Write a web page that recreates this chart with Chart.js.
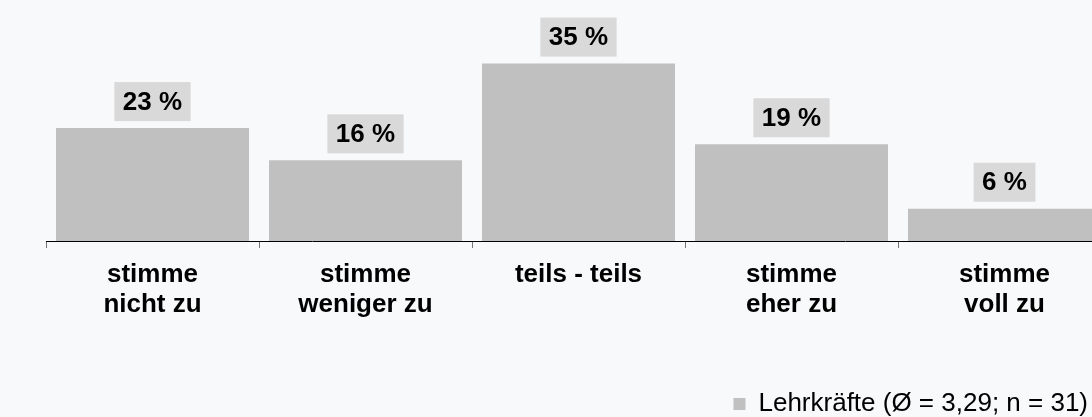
<!DOCTYPE html>
<html>
<head>
<meta charset="utf-8">
<script src="https://cdn.jsdelivr.net/npm/chart.js@4/dist/chart.umd.min.js"></script>
<style>
  html, body { margin: 0; padding: 0; background: #f8f9fa; overflow: hidden; }
  #wrap { position: relative; width: 1130px; height: 427px; }
</style>
</head>
<body>
<div id="wrap"><canvas id="chart"></canvas></div>
<script>
const categories = [
    ['stimme', 'nicht zu'],
    ['stimme', 'weniger zu'],
    'teils - teils',
    ['stimme', 'eher zu'],
    ['stimme', 'voll zu']
];
const seriesName = 'Lehrkräfte (Ø = 3,29; n = 31)';
const values = [22.58, 16.13, 35.48, 19.35, 6.45];

const FONT = "'Liberation Sans', Arial, sans-serif";
const BAR = '#c0c0c0';

// grey boxes with the rounded percentage above each bar
const valueBoxes = {
    id: 'valueBoxes',
    afterDatasetsDraw(chart) {
        const ctx = chart.ctx;
        const meta = chart.getDatasetMeta(0);
        ctx.save();
        ctx.font = 'bold 26px ' + FONT;
        ctx.textAlign = 'center';
        ctx.textBaseline = 'middle';
        meta.data.forEach((bar, i) => {
            const text = Math.round(values[i]) + ' %';
            const w = ctx.measureText(text).width + 17;
            const h = 39;
            const bottom = bar.y - 7;
            ctx.fillStyle = '#d9d9d9';
            ctx.fillRect(bar.x - w / 2, bottom - h, w, h);
            ctx.fillStyle = '#000';
            ctx.fillText(text, bar.x, bottom - h / 2 + 1);
        });
        ctx.restore();
    }
};

new Chart(document.getElementById('chart'), {
    type: 'bar',
    data: {
        labels: categories,
        datasets: [{
            label: seriesName,
            data: values,
            backgroundColor: BAR,
            borderColor: BAR,
            borderWidth: 0,
            barPercentage: 0.906,
            categoryPercentage: 1
        }]
    },
    options: {
        responsive: true,
        maintainAspectRatio: false,
        animation: false,
        layout: { padding: { left: 46, right: 19, top: 41, bottom: 0 } },
        scales: {
            x: {
                offset: true,
                grid: {
                    offset: true,
                    drawOnChartArea: false,
                    drawTicks: true,
                    tickLength: 7,
                    color: '#777'
                },
                border: { display: true, color: '#000', width: 1 },
                ticks: {
                    color: '#000',
                    padding: 12,
                    maxRotation: 0,
                    autoSkip: false,
                    font: { family: FONT, size: 26, weight: 'bold', lineHeight: 1.15 }
                },
                afterFit(scale) { scale.height = 127; }
            },
            y: {
                display: false,
                min: 0,
                max: 40
            }
        },
        plugins: {
            legend: {
                position: 'bottom',
                align: 'end',
                labels: {
                    boxWidth: 12,
                    boxHeight: 12,
                    padding: 23,
                    color: '#000',
                    font: { family: FONT, size: 26 }
                }
            },
            tooltip: { enabled: false }
        }
    },
    plugins: [valueBoxes]
});
</script>
</body>
</html>
